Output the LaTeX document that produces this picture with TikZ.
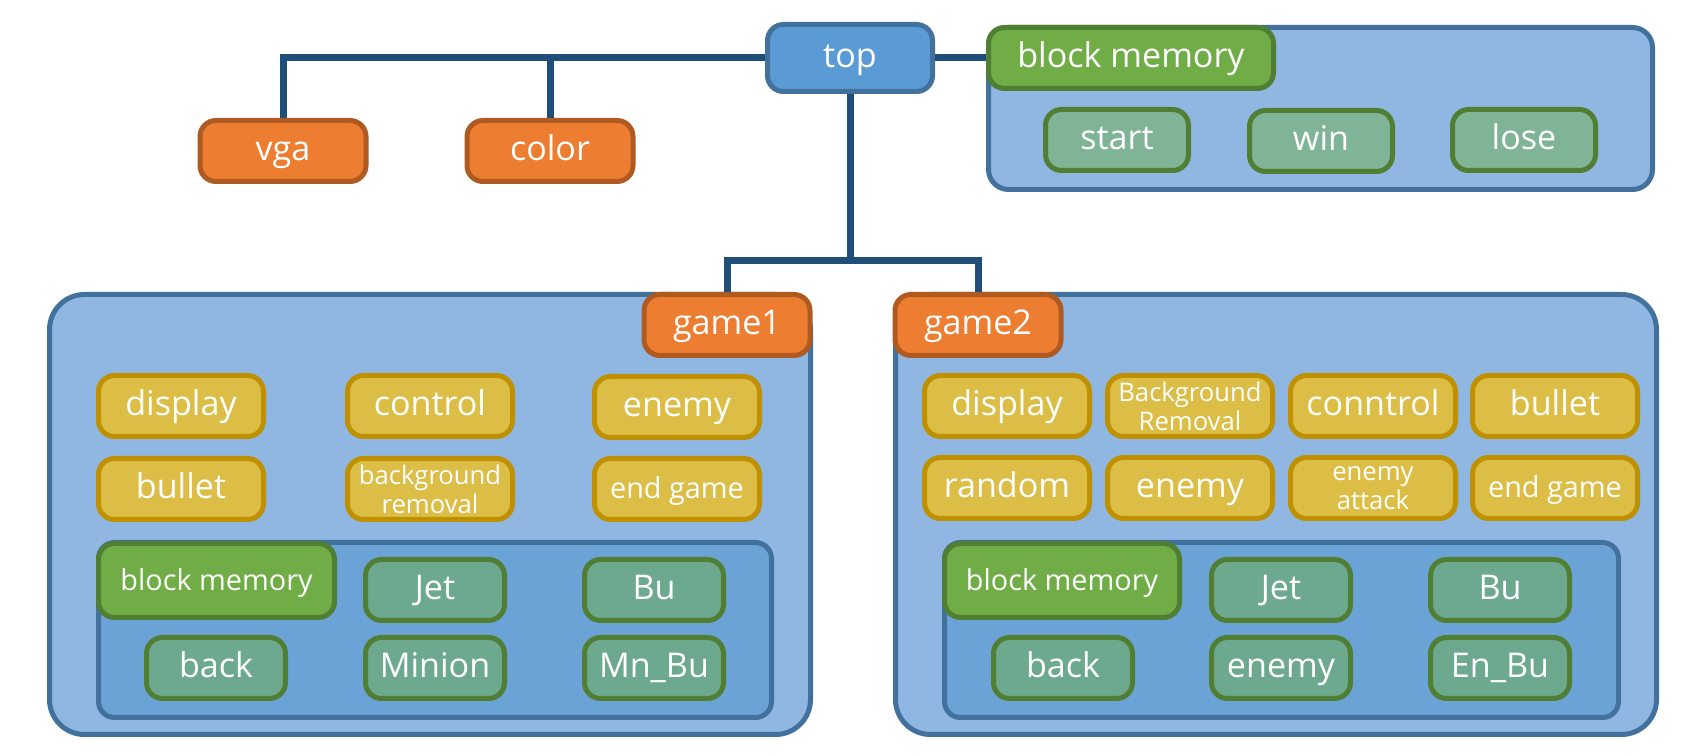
\documentclass[tikz,border=0pt]{standalone}
\usepackage{fontspec}
\setmainfont{Open Sans}
\definecolor{topfill}{HTML}{5B9BD5}
\definecolor{bluedraw}{HTML}{41719C}
\definecolor{linkcol}{HTML}{1F4E79}
\definecolor{orfill}{HTML}{ED7D31}
\definecolor{ordraw}{HTML}{AE5A21}
\definecolor{panelfill}{HTML}{8FB7E2}
\definecolor{innerfill}{HTML}{6CA3D7}
\definecolor{memfill}{HTML}{70AD47}
\definecolor{memdraw}{HTML}{507E32}
\definecolor{tealup}{HTML}{80B496}
\definecolor{teallow}{HTML}{6DA98F}
\definecolor{yelfill}{HTML}{DCBE46}
\definecolor{yeldraw}{HTML}{BF9000}
\newcommand{\bigtxt}{\fontsize{9.7}{11}\selectfont}
\newcommand{\midtxt}{\fontsize{8.2}{9.5}\selectfont}
\newcommand{\smalltxt}{\fontsize{7.3}{8.3}\selectfont}

\begin{document}
\begin{tikzpicture}
  [x=0.1mm,y=-0.1mm,
   box/.style={rectangle,rounded corners=1.6mm,line width=0.5mm,text=white,
     align=center,inner sep=0pt,font=\bigtxt,text height=0.75em,text depth=0.2em},
   twoline/.style={font=\smalltxt,text height=,text depth=},
   topbox/.style={box,fill=topfill,draw=bluedraw,minimum width=16.5mm,minimum height=6.7mm},
   orbox/.style={box,fill=orfill,draw=ordraw,minimum width=16.6mm,minimum height=6.1mm},
   yelbox/.style={box,fill=yelfill,draw=yeldraw,minimum width=16.5mm,minimum height=6.1mm},
   memlabel/.style={box,fill=memfill,draw=memdraw,minimum height=6.1mm},
   tealbox/.style={box,draw=memdraw,minimum width=13.9mm,minimum height=6.1mm},
   panel/.style={rectangle,rounded corners=3.5mm,line width=0.5mm,fill=panelfill,draw=bluedraw,inner sep=0pt},
   innerpanel/.style={rectangle,rounded corners=1.6mm,line width=0.5mm,fill=innerfill,draw=bluedraw,inner sep=0pt},
   link/.style={line width=0.7mm,draw=linkcol}]
  \useasboundingbox (0,0) rectangle (1701,756);

  % panels
  \node[panel,rounded corners=2mm,minimum width=66.4mm,minimum height=16.2mm] (mempanel) at (1320.5,108.5) {};
  \node[panel,minimum width=76.1mm,minimum height=44mm] (g1panel) at (430,514.5) {};
  \node[panel,minimum width=76.1mm,minimum height=44mm] (g2panel) at (1276,514.5) {};
  \node[innerpanel,minimum width=67.3mm,minimum height=17.5mm] (g1inner) at (435,630) {};
  \node[innerpanel,minimum width=67.4mm,minimum height=17.5mm] (g2inner) at (1281.5,630) {};

  % top level
  \node[topbox] (top) at (850,58) {top};
  \node[orbox] (vga) at (283,151) {vga};
  \node[orbox] (color) at (550,151) {color};
  \node[memlabel,minimum width=28.5mm] (mem) at (1131,58) {block memory};
  \node[tealbox,fill=tealup,minimum width=14.3mm] (start) at (1117,140) {start};
  \node[tealbox,fill=tealup,minimum width=14.3mm] (win) at (1321,141) {win};
  \node[tealbox,fill=tealup,minimum width=14.3mm] (lose) at (1524,140) {lose};
  \coordinate (split) at (850,261);

  % game1
  \node[orbox] (game1) at (727,325) {game1};
  \node[yelbox] (g1disp) at (181,406) {display};
  \node[yelbox] (g1ctrl) at (430,406) {control};
  \node[yelbox] (g1enemy) at (677,407) {enemy};
  \node[yelbox] (g1bullet) at (181,489) {bullet};
  \node[yelbox,twoline] (g1back) at (430,489) {background\\removal};
  \node[yelbox,font=\midtxt] (g1end) at (677,489) {end game};
  \node[memlabel,font=\midtxt,minimum width=23.6mm,minimum height=7.4mm] (g1mem) at (216.5,580.5) {block memory};
  \node[tealbox,fill=teallow] (g1jet) at (435,590) {Jet};
  \node[tealbox,fill=teallow] (g1bu) at (654,590) {Bu};
  \node[tealbox,fill=teallow] (g1bg) at (216,668) {back};
  \node[tealbox,fill=teallow] (g1minion) at (435,668) {Minion};
  \node[tealbox,fill=teallow] (g1mnbu) at (654,668) {Mn\_Bu};

  % game2
  \node[orbox] (game2) at (978,325) {game2};
  \node[yelbox] (g2disp) at (1007,406) {display};
  \node[yelbox,twoline] (g2back) at (1190,406) {Background\\Removal};
  \node[yelbox] (g2ctrl) at (1373,406) {conntrol};
  \node[yelbox] (g2bullet) at (1555,406) {bullet};
  \node[yelbox] (g2rand) at (1007,488) {random};
  \node[yelbox] (g2enemy) at (1190,488) {enemy};
  \node[yelbox,twoline] (g2attack) at (1373,488) {enemy\\attack};
  \node[yelbox,font=\midtxt] (g2end) at (1555,488) {end game};
  \node[memlabel,font=\midtxt,minimum width=23.5mm,minimum height=7.4mm] (g2mem) at (1062,580.5) {block memory};
  \node[tealbox,fill=teallow] (g2jet) at (1281,590) {Jet};
  \node[tealbox,fill=teallow] (g2bu) at (1500,590) {Bu};
  \node[tealbox,fill=teallow] (g2bg) at (1063,668) {back};
  \node[tealbox,fill=teallow] (g2enemy2) at (1281,668) {enemy};
  \node[tealbox,fill=teallow] (g2enbu) at (1500,668) {En\_Bu};

  \foreach \to in {vga,color}
    \draw[link] (top.west) -| (\to.north);
  \draw[link] (top.east) -- (mem.west);
  \draw[link] (top.south) -- (split);
  \foreach \to in {game1,game2}
    \draw[link] (split) -| (\to.north);

\end{tikzpicture}
\end{document}
